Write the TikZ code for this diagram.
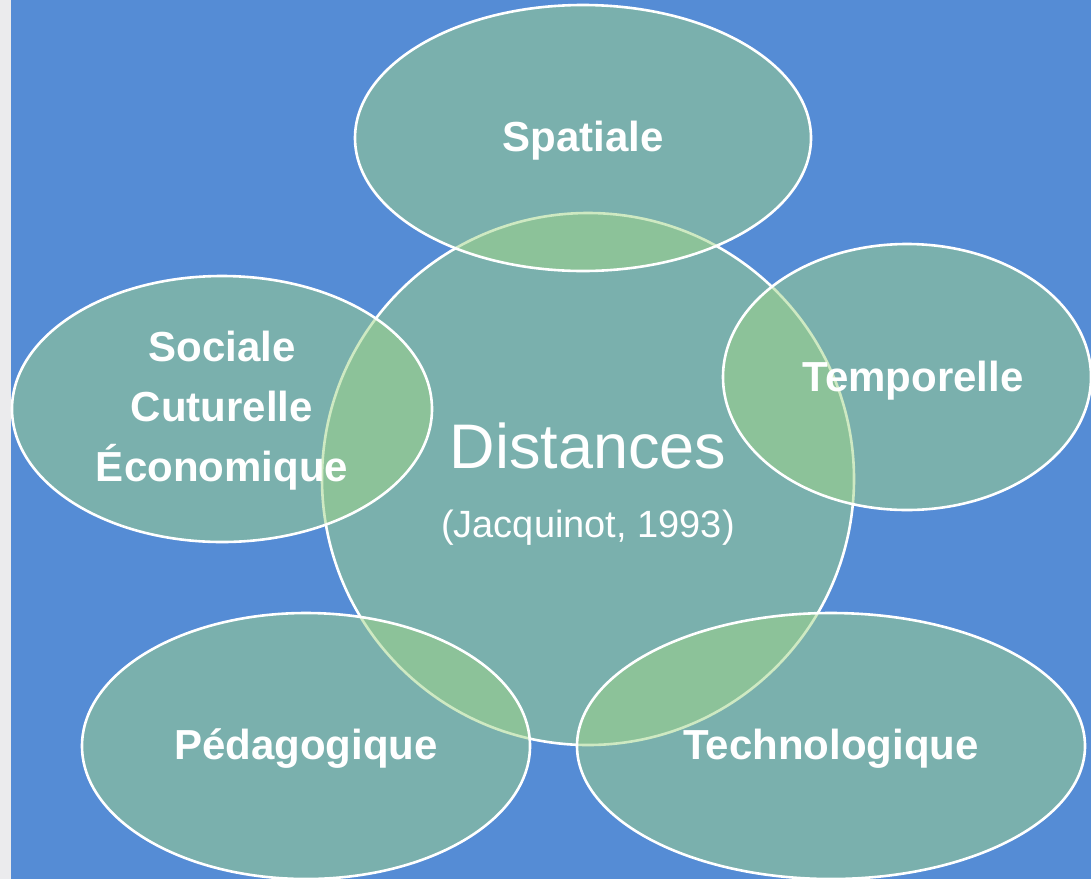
\documentclass[tikz,border=0pt]{standalone}
\usepackage{fontspec}
\setmainfont{Liberation Sans}
\definecolor{bgblue}{RGB}{85,140,213}
\definecolor{stripgray}{RGB}{235,235,237}
\definecolor{bubble}{RGB}{159,212,135}
\tikzset{
  bub/.style={fill=bubble, fill opacity=0.5, draw=white, draw opacity=1, line width=2.6pt},
  lab/.style={text=white, font=\bfseries\fontsize{42}{60}\selectfont, align=center, inner sep=0pt},
}
\begin{document}
\begin{tikzpicture}[x=1pt,y=-1pt]
\useasboundingbox (0,0) rectangle (1091,879);
\clip (0,0) rectangle (1091,879);
\fill[stripgray] (0,0) rectangle (11,879);
\fill[bgblue] (11,0) rectangle (1091,879);
% central circle
\path[bub] (588,479) circle [radius=266pt];
% satellites
\path[bub] (583,138) ellipse [x radius=228pt, y radius=133pt];
\path[bub] (907,377) ellipse [x radius=184pt, y radius=133pt];
\path[bub] (222,409) ellipse [x radius=210pt, y radius=133pt];
\path[bub] (306,746) ellipse [x radius=224pt, y radius=133pt];
\path[bub] (831,746) ellipse [x radius=254pt, y radius=133pt];
% labels
\node[lab] (spat) at (583,141) {Spatiale};
\node[lab] (temp) at (913,381) {Temporelle};
\node[lab] (soc) at (222,411) {Sociale\\Cuturelle\\Économique};
\node[lab] (ped) at (306,749) {Pédagogique};
\node[lab] (tech) at (831,749) {Technologique};
\node[text=white, font=\fontsize{63}{70}\selectfont, inner sep=0pt] (dist) at (588,446) {Distances};
\node[text=white, font=\fontsize{38}{44}\selectfont, inner sep=0pt] (jac) at (588,528) {(Jacquinot, 1993)};
\end{tikzpicture}
\end{document}
